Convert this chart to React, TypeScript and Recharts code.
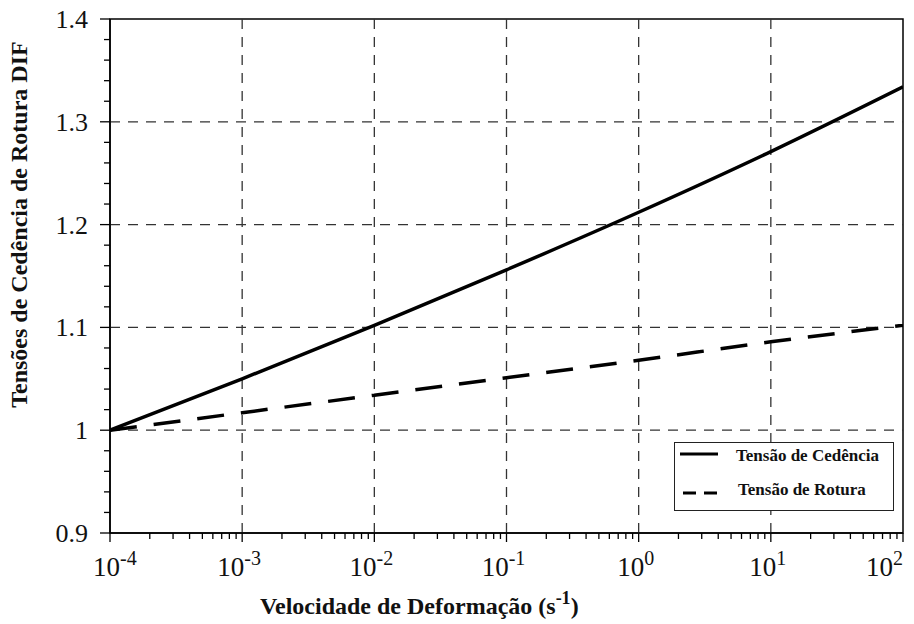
import {
  LineChart,
  Line,
  XAxis,
  YAxis,
  ReferenceLine,
  ReferenceArea,
  Legend,
  Label,
} from 'recharts';

// strain rate (s^-1), one point per decade
const strainRates = [1e-4, 1e-3, 1e-2, 1e-1, 1, 10, 100];
const yieldDIF = [1.0, 1.05, 1.102, 1.156, 1.212, 1.271, 1.334];
const ruptureDIF = [1.0, 1.017, 1.034, 1.051, 1.068, 1.086, 1.102];

const xMajor = [1e-4, 1e-3, 1e-2, 1e-1, 1, 10, 100];
const xExponents = ['-4', '-3', '-2', '-1', '0', '1', '2'];
const yMajor = [0.9, 1, 1.1, 1.2, 1.3, 1.4];
const yMinor = [
  0.92, 0.94, 0.96, 0.98, 1.02, 1.04, 1.06, 1.08, 1.12, 1.14, 1.16, 1.18,
  1.22, 1.24, 1.26, 1.28, 1.32, 1.34, 1.36, 1.38,
];

const xMinor = xMajor
  .slice(0, -1)
  .flatMap((d) => [2, 3, 4, 5, 6, 7, 8, 9].map((m) => m * d));

const data = strainRates.map((x, i) => ({
  rate: x,
  yield: yieldDIF[i],
  rupture: ruptureDIF[i],
}));

const FONT = 'Liberation Serif, Times New Roman, serif';
const INK = '#111';

function XTick(props: any) {
  const { x, y, payload } = props;
  const idx = xMajor.indexOf(payload.value);
  if (idx < 0) {
    return <line x1={x} x2={x} y1={y} y2={y + 6} stroke="#000" strokeWidth={1.3} />;
  }
  let anchor = 'middle';
  let tx = x - 3;
  if (idx === 0) {
    anchor = 'start';
    tx = x - 17;
  } else if (idx === xMajor.length - 1) {
    anchor = 'end';
    tx = x;
  }
  return (
    <g>
      <line x1={x} x2={x} y1={y} y2={y + 9} stroke="#000" strokeWidth={1.3} />
      <text x={tx} y={y + 43} textAnchor={anchor} fontFamily={FONT} fontSize={27} fill={INK}>
        <tspan>10</tspan>
        <tspan dy={-11} fontSize={20}>{xExponents[idx]}</tspan>
      </text>
    </g>
  );
}

function YTick(props: any) {
  const { x, y, payload } = props;
  const major = yMajor.includes(payload.value);
  if (!major) {
    return <line x1={x - 6} x2={x} y1={y} y2={y} stroke="#000" strokeWidth={1.3} />;
  }
  return (
    <g>
      <line x1={x - 10} x2={x} y1={y} y2={y} stroke="#000" strokeWidth={1.3} />
      <text x={x - 22} y={y + 9} textAnchor="end" fontFamily={FONT} fontSize={26} fill={INK}>
        {String(payload.value)}
      </text>
    </g>
  );
}

function LegendBox() {
  return (
    <div
      style={{
        width: 218,
        height: 67,
        border: '1.5px solid #222',
        background: '#fff',
        position: 'relative',
        fontFamily: FONT,
        fontWeight: 'bold',
        fontSize: 17,
        color: INK,
      }}
    >
      <svg width={45} height={67} style={{ position: 'absolute', left: 0, top: 0 }}>
        <line x1={5} x2={43} y1={11} y2={11} stroke="#000" strokeWidth={3} />
        <line x1={8} x2={43} y1={50} y2={50} stroke="#000" strokeWidth={3} strokeDasharray="13 8" />
      </svg>
      <div style={{ position: 'absolute', left: 61, top: 3, whiteSpace: 'nowrap' }}>Tensão de Cedência</div>
      <div style={{ position: 'absolute', left: 63, top: 37, whiteSpace: 'nowrap' }}>Tensão de Rotura</div>
    </div>
  );
}

export default function App() {
  return (
    <div style={{ position: 'absolute', left: 0, top: 0, background: '#fff' }}>
      <LineChart
        width={914}
        height={624}
        data={data}
        margin={{ top: 19, right: 11, left: 0, bottom: 0 }}
      >
        <XAxis
          dataKey="rate"
          type="number"
          scale="log"
          domain={[xMajor[0], xMajor[xMajor.length - 1]]}
          ticks={[...xMajor, ...xMinor]}
          interval={0}
          allowDataOverflow
          height={91}
          tickSize={0}
          tickMargin={0}
          tickLine={false}
          tick={<XTick />}
          axisLine={{ stroke: '#000', strokeWidth: 1.5 }}
        >
          <Label
            content={({ viewBox }: any) => (
              <text
                x={viewBox.x + viewBox.width * 0.39}
                y={viewBox.y + 81}
                textAnchor="middle"
                fontFamily={FONT}
                fontWeight="bold"
                fontSize={24}
                fill={INK}
              >
                <tspan>Velocidade de Deformação (s</tspan>
                <tspan dy={-10} fontSize={18}>-1</tspan>
                <tspan dy={10}>)</tspan>
              </text>
            )}
          />
        </XAxis>
        <YAxis
          type="number"
          domain={[yMajor[0], yMajor[yMajor.length - 1]]}
          ticks={[...yMajor, ...yMinor]}
          interval={0}
          allowDataOverflow
          width={110}
          tickSize={0}
          tickMargin={0}
          tickLine={false}
          tick={<YTick />}
          axisLine={{ stroke: '#000', strokeWidth: 1.5 }}
        >
          <Label
            content={({ viewBox }: any) => {
              const cx = viewBox.x + 27;
              const cy = viewBox.y + viewBox.height * 0.4;
              return (
                <text
                  x={cx}
                  y={cy}
                  transform={`rotate(-90 ${cx} ${cy})`}
                  textAnchor="middle"
                  fontFamily={FONT}
                  fontWeight="bold"
                  fontSize={24}
                  fill={INK}
                >
                  Tensões de Cedência de Rotura DIF
                </text>
              );
            }}
          />
        </YAxis>

        {/* dashed grid at the major ticks */}
        {xMajor.slice(1, -1).map((v) => (
          <ReferenceLine key={`gx${v}`} x={v} stroke="#333" strokeWidth={1.3} strokeDasharray="10 8" />
        ))}
        {yMajor.slice(1, -1).map((v) => (
          <ReferenceLine key={`gy${v}`} y={v} stroke="#333" strokeWidth={1.3} strokeDasharray="10 8" />
        ))}

        {/* plot frame */}
        <ReferenceArea
          x1={xMajor[0]}
          x2={xMajor[xMajor.length - 1]}
          y1={yMajor[0]}
          y2={yMajor[yMajor.length - 1]}
          fill="none"
          stroke="#000"
          strokeWidth={1.5}
          fillOpacity={0}
        />

        <Line
          dataKey="yield"
          name="Tensão de Cedência"
          type="monotone"
          stroke="#000"
          strokeWidth={3.5}
          dot={false}
          isAnimationActive={false}
        />
        <Line
          dataKey="rupture"
          name="Tensão de Rotura"
          type="monotone"
          stroke="#000"
          strokeWidth={3.5}
          strokeDasharray="27 17"
          dot={false}
          isAnimationActive={false}
        />

        <Legend
          layout="horizontal"
          verticalAlign="middle"
          align="center"
          content={() => <LegendBox />}
          wrapperStyle={{ left: 674, top: 442, width: 221, height: 70 }}
        />
      </LineChart>
    </div>
  );
}
